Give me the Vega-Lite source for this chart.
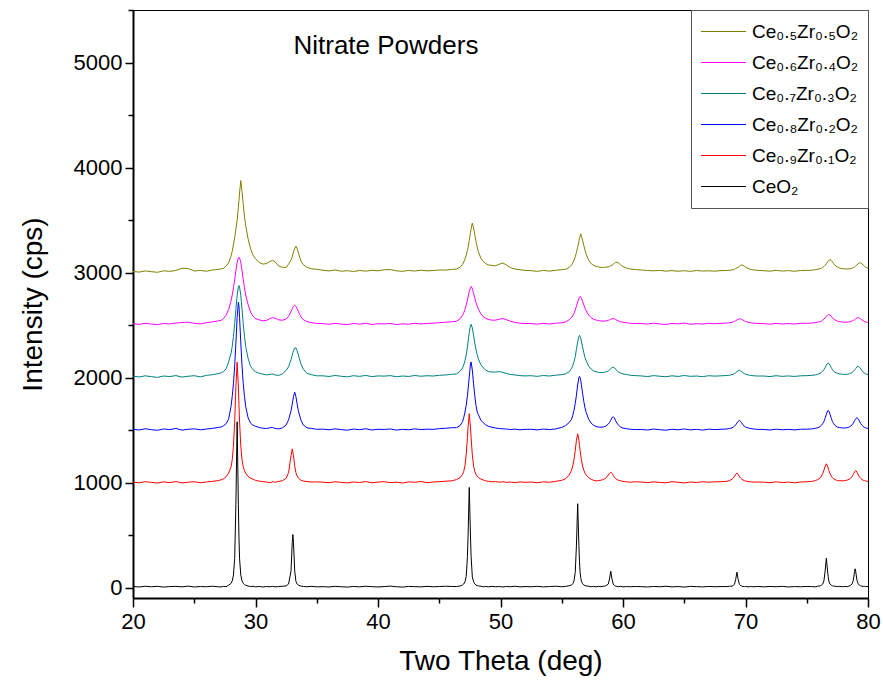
{
"$schema":"https://vega.github.io/schema/vega-lite/v6.json",
"width":735,"height":588,
"autosize":{"type":"none"},
"padding":{"left":133,"top":10,"right":15,"bottom":86},
"background":"white",
"config":{
 "view":{"stroke":"#000","strokeWidth":1},
 "axis":{"domainColor":"#000","domainWidth":2,"tickColor":"#000","tickWidth":1.5,"labelFont":"Liberation Sans","labelFontSize":22,"labelColor":"#000","titleFont":"Liberation Sans","titleFontSize":28,"titleFontWeight":"normal","titleColor":"#000","grid":false}
},
"data":{"values":[
{"x":20.0,"a":10,"b":1004,"c":1508,"d":2013,"e":2513,"f":3010},
{"x":20.5,"a":5,"b":997,"c":1500,"d":2005,"e":2506,"f":3004},
{"x":21.0,"a":12,"b":1008,"c":1512,"d":2016,"e":2516,"f":3015},
{"x":21.5,"a":7,"b":1001,"c":1503,"d":2008,"e":2509,"f":3008},
{"x":22.0,"a":11,"b":995,"c":1497,"d":2001,"e":2503,"f":3002},
{"x":22.5,"a":4,"b":1006,"c":1510,"d":2014,"e":2515,"f":3016},
{"x":23.0,"a":9,"b":999,"c":1504,"d":2009,"e":2510,"f":3011},
{"x":23.5,"a":11,"b":1009,"c":1515,"d":2018,"e":2518,"f":3019},
{"x":24.0,"a":6,"b":996,"c":1499,"d":2004,"e":2524,"f":3040},
{"x":24.5,"a":13,"b":1003,"c":1507,"d":2012,"e":2527,"f":3038},
{"x":25.0,"a":5,"b":1007,"c":1511,"d":2017,"e":2516,"f":3014},
{"x":25.5,"a":9,"b":998,"c":1502,"d":2006,"e":2511,"f":3020},
{"x":26.0,"a":7,"b":1005,"c":1509,"d":2020,"e":2522,"f":3012},
{"x":26.5,"a":12,"b":1011,"c":1516,"d":2027,"e":2530,"f":3024},
{"x":27.0,"a":6,"b":1019,"c":1525,"d":2038,"e":2540,"f":3030},
{"x":27.2,"a":6,"b":1026,"c":1528,"d":2044,"e":2544,"f":3035},
{"x":27.4,"a":11,"b":1036,"c":1541,"d":2058,"e":2563,"f":3040},
{"x":27.6,"a":7,"b":1055,"c":1560,"d":2082,"e":2594,"f":3060},
{"x":27.8,"a":22,"b":1088,"c":1602,"d":2146,"e":2645,"f":3090},
{"x":28.0,"a":39,"b":1147,"c":1723,"d":2228,"e":2728,"f":3155},
{"x":28.1,"a":63,"b":1216,"c":1820,"d":2297,"e":2785,"f":3202},
{"x":28.2,"a":118,"b":1346,"c":1941,"d":2392,"e":2854,"f":3268},
{"x":28.3,"a":275,"b":1575,"c":2111,"d":2513,"e":2930,"f":3332},
{"x":28.4,"a":793,"b":1917,"c":2329,"d":2651,"e":3019,"f":3413},
{"x":28.5,"a":1578,"b":2146,"c":2572,"d":2781,"e":3095,"f":3495},
{"x":28.6,"a":793,"b":1917,"c":2717,"d":2863,"e":3140,"f":3620},
{"x":28.65,"a":479,"b":1745,"c":2681,"d":2876,"e":3146,"f":3688},
{"x":28.7,"a":275,"b":1575,"c":2572,"d":2863,"e":3140,"f":3757},
{"x":28.8,"a":118,"b":1346,"c":2329,"d":2781,"e":3095,"f":3876},
{"x":28.9,"a":63,"b":1216,"c":2111,"d":2651,"e":3019,"f":3773},
{"x":29.0,"a":39,"b":1150,"c":1941,"d":2513,"e":2930,"f":3646},
{"x":29.1,"a":28,"b":1113,"c":1820,"d":2392,"e":2854,"f":3533},
{"x":29.2,"a":22,"b":1088,"c":1723,"d":2297,"e":2785,"f":3448},
{"x":29.4,"a":14,"b":1057,"c":1615,"d":2180,"e":2693,"f":3318},
{"x":29.6,"a":9,"b":1040,"c":1565,"d":2105,"e":2623,"f":3225},
{"x":29.8,"a":12,"b":1032,"c":1545,"d":2075,"e":2583,"f":3165},
{"x":30.0,"a":6,"b":1020,"c":1535,"d":2055,"e":2561,"f":3130},
{"x":30.3,"a":10,"b":1013,"c":1524,"d":2040,"e":2549,"f":3096},
{"x":30.6,"a":5,"b":1008,"c":1517,"d":2032,"e":2540,"f":3080},
{"x":30.9,"a":9,"b":1005,"c":1514,"d":2025,"e":2544,"f":3085},
{"x":31.2,"a":7,"b":998,"c":1522,"d":2030,"e":2562,"f":3106},
{"x":31.4,"a":11,"b":1007,"c":1524,"d":2034,"e":2570,"f":3116},
{"x":31.6,"a":6,"b":1003,"c":1515,"d":2024,"e":2565,"f":3102},
{"x":31.9,"a":9,"b":1010,"c":1510,"d":2020,"e":2549,"f":3060},
{"x":32.2,"a":12,"b":1017,"c":1521,"d":2035,"e":2545,"f":3050},
{"x":32.5,"a":15,"b":1040,"c":1548,"d":2067,"e":2556,"f":3048},
{"x":32.7,"a":33,"b":1094,"c":1597,"d":2102,"e":2581,"f":3080},
{"x":32.9,"a":158,"b":1254,"c":1683,"d":2170,"e":2628,"f":3118},
{"x":33.0,"a":430,"b":1320,"c":1746,"d":2214,"e":2656,"f":3150},
{"x":33.05,"a":505,"b":1288,"c":1782,"d":2236,"e":2669,"f":3173},
{"x":33.1,"a":430,"b":1254,"c":1817,"d":2255,"e":2678,"f":3197},
{"x":33.2,"a":158,"b":1158,"c":1860,"d":2281,"e":2688,"f":3228},
{"x":33.3,"a":58,"b":1094,"c":1817,"d":2281,"e":2678,"f":3250},
{"x":33.4,"a":33,"b":1061,"c":1746,"d":2255,"e":2656,"f":3228},
{"x":33.5,"a":22,"b":1043,"c":1683,"d":2214,"e":2628,"f":3190},
{"x":33.7,"a":14,"b":1022,"c":1597,"d":2132,"e":2579,"f":3112},
{"x":33.9,"a":10,"b":1014,"c":1548,"d":2080,"e":2551,"f":3075},
{"x":34.2,"a":7,"b":1009,"c":1521,"d":2039,"e":2532,"f":3048},
{"x":34.6,"a":11,"b":1004,"c":1514,"d":2026,"e":2522,"f":3035},
{"x":35.0,"a":6,"b":1006,"c":1507,"d":2016,"e":2515,"f":3030},
{"x":35.5,"a":8,"b":1003,"c":1508,"d":2016,"e":2513,"f":3022},
{"x":36.0,"a":5,"b":998,"c":1502,"d":2010,"e":2507,"f":3015},
{"x":36.5,"a":11,"b":1007,"c":1511,"d":2019,"e":2516,"f":3024},
{"x":37.0,"a":7,"b":1001,"c":1504,"d":2012,"e":2509,"f":3012},
{"x":37.5,"a":4,"b":996,"c":1498,"d":2006,"e":2503,"f":3017},
{"x":38.0,"a":10,"b":1005,"c":1509,"d":2017,"e":2514,"f":3010},
{"x":38.5,"a":6,"b":1000,"c":1503,"d":2011,"e":2508,"f":3019},
{"x":39.0,"a":12,"b":1009,"c":1512,"d":2020,"e":2517,"f":3013},
{"x":39.5,"a":8,"b":997,"c":1500,"d":2008,"e":2505,"f":3021},
{"x":40.0,"a":5,"b":1004,"c":1507,"d":2015,"e":2512,"f":3016},
{"x":40.5,"a":9,"b":1008,"c":1505,"d":2013,"e":2510,"f":3026},
{"x":41.0,"a":13,"b":999,"c":1510,"d":2018,"e":2515,"f":3028},
{"x":41.5,"a":7,"b":1003,"c":1499,"d":2007,"e":2504,"f":3016},
{"x":42.0,"a":4,"b":995,"c":1506,"d":2014,"e":2511,"f":3011},
{"x":42.5,"a":10,"b":1006,"c":1502,"d":2010,"e":2507,"f":3020},
{"x":43.0,"a":8,"b":1002,"c":1511,"d":2019,"e":2516,"f":3014},
{"x":43.5,"a":6,"b":1010,"c":1504,"d":2012,"e":2510,"f":3022},
{"x":44.0,"a":11,"b":998,"c":1508,"d":2017,"e":2514,"f":3016},
{"x":44.5,"a":7,"b":1005,"c":1506,"d":2014,"e":2518,"f":3019},
{"x":45.0,"a":9,"b":1008,"c":1513,"d":2021,"e":2522,"f":3024},
{"x":45.5,"a":12,"b":1012,"c":1516,"d":2024,"e":2526,"f":3023},
{"x":46.0,"a":10,"b":1016,"c":1522,"d":2030,"e":2531,"f":3029},
{"x":46.4,"a":9,"b":1027,"c":1522,"d":2034,"e":2535,"f":3033},
{"x":46.7,"a":14,"b":1046,"c":1542,"d":2059,"e":2560,"f":3050},
{"x":46.9,"a":24,"b":1077,"c":1580,"d":2091,"e":2592,"f":3077},
{"x":47.0,"a":34,"b":1107,"c":1619,"d":2121,"e":2617,"f":3100},
{"x":47.1,"a":55,"b":1159,"c":1671,"d":2161,"e":2649,"f":3128},
{"x":47.2,"a":103,"b":1264,"c":1735,"d":2215,"e":2689,"f":3164},
{"x":47.3,"a":292,"b":1428,"c":1826,"d":2289,"e":2738,"f":3210},
{"x":47.35,"a":481,"b":1526,"c":1884,"d":2339,"e":2767,"f":3239},
{"x":47.45,"a":953,"b":1655,"c":2006,"d":2428,"e":2819,"f":3306},
{"x":47.55,"a":481,"b":1526,"c":2129,"d":2497,"e":2855,"f":3380},
{"x":47.6,"a":292,"b":1428,"c":2148,"d":2507,"e":2867,"f":3416},
{"x":47.7,"a":103,"b":1264,"c":2071,"d":2472,"e":2846,"f":3471},
{"x":47.8,"a":55,"b":1159,"c":1942,"d":2403,"e":2803,"f":3425},
{"x":47.9,"a":34,"b":1107,"c":1826,"d":2329,"e":2756,"f":3361},
{"x":48.0,"a":24,"b":1077,"c":1735,"d":2264,"e":2713,"f":3297},
{"x":48.1,"a":18,"b":1060,"c":1671,"d":2215,"e":2678,"f":3242},
{"x":48.2,"a":15,"b":1046,"c":1645,"d":2175,"e":2649,"f":3196},
{"x":48.4,"a":12,"b":1032,"c":1593,"d":2121,"e":2606,"f":3135},
{"x":48.6,"a":7,"b":1024,"c":1568,"d":2091,"e":2578,"f":3105},
{"x":48.8,"a":10,"b":1015,"c":1548,"d":2071,"e":2563,"f":3084},
{"x":49.0,"a":6,"b":1012,"c":1536,"d":2057,"e":2554,"f":3073},
{"x":49.3,"a":11,"b":1006,"c":1526,"d":2052,"e":2546,"f":3067},
{"x":49.6,"a":7,"b":1009,"c":1519,"d":2052,"e":2546,"f":3064},
{"x":49.9,"a":9,"b":1003,"c":1514,"d":2056,"e":2555,"f":3079},
{"x":50.2,"a":5,"b":1007,"c":1511,"d":2049,"e":2562,"f":3091},
{"x":50.5,"a":10,"b":1001,"c":1509,"d":2037,"e":2550,"f":3070},
{"x":50.8,"a":7,"b":1005,"c":1505,"d":2029,"e":2536,"f":3047},
{"x":51.2,"a":12,"b":998,"c":1508,"d":2024,"e":2524,"f":3033},
{"x":51.6,"a":6,"b":1006,"c":1502,"d":2018,"e":2517,"f":3026},
{"x":52.0,"a":9,"b":1002,"c":1506,"d":2015,"e":2514,"f":3020},
{"x":52.5,"a":7,"b":1004,"c":1507,"d":2017,"e":2514,"f":3018},
{"x":53.0,"a":11,"b":998,"c":1501,"d":2011,"e":2508,"f":3011},
{"x":53.5,"a":6,"b":1006,"c":1509,"d":2019,"e":2516,"f":3020},
{"x":54.0,"a":9,"b":1002,"c":1504,"d":2014,"e":2510,"f":3013},
{"x":54.5,"a":12,"b":1011,"c":1510,"d":2022,"e":2517,"f":3021},
{"x":55.0,"a":7,"b":1021,"c":1525,"d":2027,"e":2521,"f":3027},
{"x":55.3,"a":11,"b":1034,"c":1541,"d":2034,"e":2529,"f":3030},
{"x":55.6,"a":16,"b":1070,"c":1571,"d":2054,"e":2549,"f":3047},
{"x":55.8,"a":24,"b":1117,"c":1602,"d":2086,"e":2571,"f":3073},
{"x":55.9,"a":36,"b":1158,"c":1640,"d":2113,"e":2589,"f":3092},
{"x":56.0,"a":63,"b":1219,"c":1688,"d":2150,"e":2613,"f":3117},
{"x":56.1,"a":142,"b":1302,"c":1752,"d":2199,"e":2642,"f":3149},
{"x":56.2,"a":403,"b":1404,"c":1833,"d":2269,"e":2678,"f":3190},
{"x":56.3,"a":798,"b":1464,"c":1930,"d":2339,"e":2720,"f":3241},
{"x":56.4,"a":403,"b":1404,"c":2001,"d":2393,"e":2754,"f":3297},
{"x":56.45,"a":245,"b":1353,"c":2011,"d":2401,"e":2765,"f":3326},
{"x":56.5,"a":142,"b":1302,"c":1995,"d":2389,"e":2772,"f":3347},
{"x":56.55,"a":95,"b":1260,"c":1975,"d":2374,"e":2765,"f":3368},
{"x":56.6,"a":63,"b":1219,"c":1935,"d":2347,"e":2756,"f":3350},
{"x":56.7,"a":36,"b":1158,"c":1851,"d":2291,"e":2725,"f":3308},
{"x":56.8,"a":24,"b":1117,"c":1771,"d":2236,"e":2691,"f":3258},
{"x":56.9,"a":18,"b":1089,"c":1711,"d":2191,"e":2660,"f":3213},
{"x":57.0,"a":15,"b":1070,"c":1665,"d":2156,"e":2634,"f":3174},
{"x":57.2,"a":12,"b":1046,"c":1602,"d":2108,"e":2595,"f":3117},
{"x":57.4,"a":7,"b":1031,"c":1565,"d":2080,"e":2571,"f":3085},
{"x":57.6,"a":10,"b":1021,"c":1545,"d":2063,"e":2555,"f":3068},
{"x":57.8,"a":6,"b":1015,"c":1533,"d":2055,"e":2547,"f":3059},
{"x":58.0,"a":11,"b":1019,"c":1528,"d":2049,"e":2543,"f":3053},
{"x":58.2,"a":8,"b":1022,"c":1527,"d":2047,"e":2538,"f":3049},
{"x":58.4,"a":12,"b":1028,"c":1529,"d":2048,"e":2537,"f":3049},
{"x":58.6,"a":16,"b":1041,"c":1537,"d":2053,"e":2538,"f":3050},
{"x":58.8,"a":33,"b":1071,"c":1556,"d":2063,"e":2544,"f":3054},
{"x":58.9,"a":82,"b":1088,"c":1571,"d":2073,"e":2550,"f":3058},
{"x":59.0,"a":155,"b":1099,"c":1592,"d":2084,"e":2555,"f":3063},
{"x":59.1,"a":82,"b":1086,"c":1618,"d":2094,"e":2559,"f":3070},
{"x":59.2,"a":33,"b":1068,"c":1624,"d":2099,"e":2562,"f":3078},
{"x":59.3,"a":18,"b":1050,"c":1616,"d":2092,"e":2558,"f":3088},
{"x":59.4,"a":13,"b":1037,"c":1588,"d":2080,"e":2553,"f":3095},
{"x":59.5,"a":10,"b":1029,"c":1567,"d":2067,"e":2546,"f":3097},
{"x":59.6,"a":8,"b":1023,"c":1550,"d":2055,"e":2540,"f":3094},
{"x":59.8,"a":11,"b":1016,"c":1529,"d":2042,"e":2531,"f":3074},
{"x":60.0,"a":6,"b":1010,"c":1518,"d":2034,"e":2526,"f":3056},
{"x":60.3,"a":9,"b":1006,"c":1512,"d":2028,"e":2521,"f":3041},
{"x":60.6,"a":7,"b":1003,"c":1507,"d":2021,"e":2517,"f":3033},
{"x":61.0,"a":10,"b":1007,"c":1504,"d":2018,"e":2514,"f":3028},
{"x":61.5,"a":8,"b":1004,"c":1505,"d":2015,"e":2514,"f":3024},
{"x":62.0,"a":5,"b":999,"c":1500,"d":2009,"e":2509,"f":3019},
{"x":62.5,"a":10,"b":1006,"c":1509,"d":2018,"e":2517,"f":3016},
{"x":63.0,"a":7,"b":1001,"c":1503,"d":2012,"e":2510,"f":3020},
{"x":63.5,"a":12,"b":997,"c":1498,"d":2007,"e":2505,"f":3013},
{"x":64.0,"a":6,"b":1008,"c":1507,"d":2016,"e":2515,"f":3018},
{"x":64.5,"a":9,"b":1002,"c":1502,"d":2010,"e":2511,"f":3012},
{"x":65.0,"a":4,"b":996,"c":1510,"d":2019,"e":2518,"f":3017},
{"x":65.5,"a":11,"b":1005,"c":1501,"d":2011,"e":2507,"f":3011},
{"x":66.0,"a":8,"b":1000,"c":1506,"d":2014,"e":2513,"f":3019},
{"x":66.5,"a":6,"b":1007,"c":1499,"d":2008,"e":2509,"f":3014},
{"x":67.0,"a":10,"b":1003,"c":1508,"d":2017,"e":2516,"f":3016},
{"x":67.5,"a":7,"b":1006,"c":1504,"d":2013,"e":2512,"f":3013},
{"x":68.0,"a":9,"b":1008,"c":1507,"d":2016,"e":2516,"f":3018},
{"x":68.4,"a":9,"b":1010,"c":1509,"d":2019,"e":2518,"f":3019},
{"x":68.7,"a":12,"b":1018,"c":1514,"d":2022,"e":2521,"f":3021},
{"x":68.9,"a":13,"b":1031,"c":1521,"d":2027,"e":2525,"f":3024},
{"x":69.0,"a":18,"b":1042,"c":1528,"d":2031,"e":2530,"f":3027},
{"x":69.1,"a":31,"b":1058,"c":1536,"d":2037,"e":2535,"f":3031},
{"x":69.2,"a":77,"b":1078,"c":1549,"d":2045,"e":2541,"f":3037},
{"x":69.3,"a":146,"b":1089,"c":1566,"d":2055,"e":2548,"f":3043},
{"x":69.4,"a":77,"b":1078,"c":1582,"d":2064,"e":2554,"f":3050},
{"x":69.5,"a":31,"b":1058,"c":1591,"d":2068,"e":2558,"f":3059},
{"x":69.6,"a":18,"b":1042,"c":1582,"d":2064,"e":2558,"f":3067},
{"x":69.7,"a":13,"b":1031,"c":1566,"d":2055,"e":2553,"f":3073},
{"x":69.8,"a":10,"b":1023,"c":1549,"d":2045,"e":2546,"f":3068},
{"x":69.9,"a":7,"b":1018,"c":1536,"d":2037,"e":2540,"f":3060},
{"x":70.0,"a":11,"b":1014,"c":1528,"d":2031,"e":2534,"f":3052},
{"x":70.2,"a":6,"b":1010,"c":1520,"d":2025,"e":2527,"f":3039},
{"x":70.4,"a":9,"b":1006,"c":1514,"d":2020,"e":2521,"f":3030},
{"x":70.7,"a":7,"b":1003,"c":1509,"d":2016,"e":2517,"f":3024},
{"x":71.0,"a":10,"b":1005,"c":1506,"d":2014,"e":2514,"f":3020},
{"x":71.5,"a":6,"b":1003,"c":1505,"d":2014,"e":2513,"f":3017},
{"x":72.0,"a":10,"b":998,"c":1500,"d":2009,"e":2508,"f":3013},
{"x":72.5,"a":7,"b":1006,"c":1508,"d":2017,"e":2515,"f":3020},
{"x":73.0,"a":11,"b":1000,"c":1502,"d":2011,"e":2510,"f":3014},
{"x":73.5,"a":5,"b":1004,"c":1506,"d":2015,"e":2514,"f":3018},
{"x":74.0,"a":9,"b":997,"c":1501,"d":2010,"e":2509,"f":3012},
{"x":74.5,"a":7,"b":1005,"c":1507,"d":2016,"e":2516,"f":3019},
{"x":75.0,"a":10,"b":1007,"c":1508,"d":2018,"e":2516,"f":3020},
{"x":75.4,"a":9,"b":1010,"c":1510,"d":2020,"e":2518,"f":3022},
{"x":75.7,"a":6,"b":1018,"c":1516,"d":2025,"e":2523,"f":3027},
{"x":75.9,"a":12,"b":1028,"c":1522,"d":2030,"e":2527,"f":3031},
{"x":76.0,"a":14,"b":1035,"c":1527,"d":2035,"e":2530,"f":3034},
{"x":76.1,"a":16,"b":1045,"c":1534,"d":2040,"e":2533,"f":3037},
{"x":76.2,"a":22,"b":1061,"c":1545,"d":2049,"e":2538,"f":3041},
{"x":76.3,"a":32,"b":1084,"c":1560,"d":2060,"e":2546,"f":3048},
{"x":76.4,"a":62,"b":1116,"c":1580,"d":2075,"e":2556,"f":3057},
{"x":76.5,"a":157,"b":1155,"c":1612,"d":2095,"e":2568,"f":3069},
{"x":76.6,"a":279,"b":1178,"c":1650,"d":2118,"e":2582,"f":3084},
{"x":76.7,"a":157,"b":1155,"c":1681,"d":2135,"e":2595,"f":3101},
{"x":76.75,"a":103,"b":1136,"c":1687,"d":2137,"e":2598,"f":3109},
{"x":76.8,"a":62,"b":1116,"c":1681,"d":2135,"e":2600,"f":3116},
{"x":76.9,"a":32,"b":1084,"c":1650,"d":2118,"e":2595,"f":3122},
{"x":77.0,"a":22,"b":1061,"c":1612,"d":2095,"e":2582,"f":3116},
{"x":77.1,"a":16,"b":1045,"c":1580,"d":2075,"e":2568,"f":3101},
{"x":77.2,"a":13,"b":1035,"c":1560,"d":2060,"e":2556,"f":3084},
{"x":77.3,"a":12,"b":1028,"c":1545,"d":2049,"e":2549,"f":3069},
{"x":77.5,"a":9,"b":1018,"c":1527,"d":2040,"e":2537,"f":3052},
{"x":77.7,"a":11,"b":1017,"c":1523,"d":2034,"e":2532,"f":3042},
{"x":77.9,"a":7,"b":1016,"c":1519,"d":2032,"e":2528,"f":3037},
{"x":78.1,"a":10,"b":1018,"c":1519,"d":2029,"e":2526,"f":3035},
{"x":78.3,"a":8,"b":1023,"c":1522,"d":2031,"e":2527,"f":3033},
{"x":78.5,"a":16,"b":1033,"c":1530,"d":2036,"e":2530,"f":3035},
{"x":78.6,"a":22,"b":1043,"c":1539,"d":2041,"e":2533,"f":3037},
{"x":78.7,"a":35,"b":1057,"c":1549,"d":2047,"e":2538,"f":3041},
{"x":78.8,"a":68,"b":1077,"c":1565,"d":2057,"e":2543,"f":3046},
{"x":78.9,"a":149,"b":1102,"c":1588,"d":2070,"e":2551,"f":3054},
{"x":78.95,"a":178,"b":1111,"c":1598,"d":2078,"e":2556,"f":3058},
{"x":79.0,"a":149,"b":1114,"c":1608,"d":2086,"e":2560,"f":3062},
{"x":79.1,"a":68,"b":1099,"c":1617,"d":2102,"e":2567,"f":3073},
{"x":79.2,"a":35,"b":1074,"c":1606,"d":2106,"e":2570,"f":3084},
{"x":79.3,"a":22,"b":1054,"c":1585,"d":2099,"e":2565,"f":3092},
{"x":79.4,"a":16,"b":1039,"c":1562,"d":2083,"e":2558,"f":3090},
{"x":79.5,"a":13,"b":1029,"c":1546,"d":2066,"e":2549,"f":3083},
{"x":79.6,"a":10,"b":1022,"c":1535,"d":2053,"e":2541,"f":3072},
{"x":79.7,"a":12,"b":1018,"c":1526,"d":2043,"e":2535,"f":3061},
{"x":79.8,"a":8,"b":1015,"c":1521,"d":2036,"e":2530,"f":3052},
{"x":80.0,"a":10,"b":1009,"c":1514,"d":2027,"e":2524,"f":3038}
]},
"layer":[
 {
  "transform":[{"fold":["a","b","c","d","e","f"],"as":["k","y"]}],
  "mark":{"type":"line","strokeWidth":1,"interpolate":"linear"},
  "encoding":{
   "x":{"field":"x","type":"quantitative","scale":{"domain":[20,80],"nice":false,"zero":false},
     "axis":{"title":"Two Theta (deg)","values":[20,25,30,35,40,45,50,55,60,65,70,75,80],
       "labelExpr":"datum.value % 10 === 0 ? datum.label : ''",
       "tickSize":{"condition":{"test":"datum.value % 10 === 0","value":9},"value":5},
       "labelPadding":4,"titlePadding":15,"labelFlush":false}},
   "y":{"field":"y","type":"quantitative","scale":{"domain":[-100,5500],"nice":false,"zero":false},
     "axis":{"title":"Intensity (cps)","format":"d","values":[0,500,1000,1500,2000,2500,3000,3500,4000,4500,5000,5500],
       "labelExpr":"datum.value % 1000 === 0 && datum.value < 5500 ? datum.label : ''",
       "tickSize":{"condition":{"test":"datum.value % 1000 === 0","value":8},"value":5},
       "labelPadding":3,"titlePadding":26}},
   "color":{"field":"k","type":"nominal",
     "scale":{"domain":["f","e","d","c","b","a"],"range":["#808000","#FF00FF","#008080","#0000FF","#FF0000","#000000"]},
     "legend":{"title":null,"orient":"top-right","offset":0,
       "labelExpr":"datum.label == 'f' ? 'Ce₀.₅Zr₀.₅O₂' : datum.label == 'e' ? 'Ce₀.₆Zr₀.₄O₂' : datum.label == 'd' ? 'Ce₀.₇Zr₀.₃O₂' : datum.label == 'c' ? 'Ce₀.₈Zr₀.₂O₂' : datum.label == 'b' ? 'Ce₀.₉Zr₀.₁O₂' : 'CeO₂'",
       "symbolType":"stroke","symbolSize":2025,"symbolStrokeWidth":1.2,"clipHeight":25,"rowPadding":6,"padding":9,
       "strokeColor":"#555","fillColor":"#fff","labelFont":"Liberation Sans","labelFontSize":19,"labelOffset":5,"labelLimit":300,"labelColor":"#000"}}
  }
 },
 {
  "data":{"values":[{}]},
  "mark":{"type":"text","align":"left","baseline":"middle","font":"Liberation Sans","fontSize":26,"color":"#000"},
  "encoding":{
   "x":{"datum":33.1,"type":"quantitative"},
   "y":{"datum":5160,"type":"quantitative"},
   "text":{"value":"Nitrate Powders"}
  }
 }
]
}
